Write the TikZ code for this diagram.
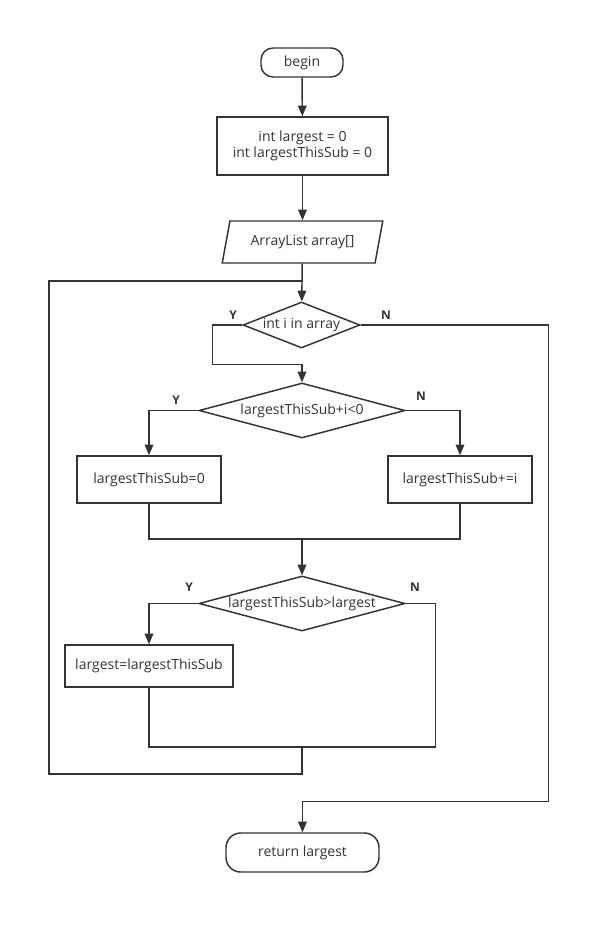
\documentclass[tikz,border=0pt]{standalone}
\usepackage{fontspec}
\setmainfont{Open Sans}
\usepackage{tikz}
\usetikzlibrary{shapes,shapes.geometric,arrows,arrows.meta,calc,positioning}

\definecolor{ink}{HTML}{333333}

\tikzset{
  box/.style={draw, rectangle, inner sep=2pt, align=center},
  term/.style={draw, rectangle, rounded corners=9pt, inner sep=2pt},
  io/.style={draw, trapezium, trapezium left angle=73, trapezium right angle=107,
    trapezium stretches=true, minimum width=120.75pt, minimum height=31.5pt, inner sep=2pt},
  decision/.style={draw, diamond, inner sep=0pt},
  arrow/.style={-{Triangle[length=8pt,width=6.5pt]}},
  yn/.style={font=\bfseries\fontsize{9}{11}\selectfont},
}

\begin{document}
\begin{tikzpicture}[x=0.75pt, y=-0.75pt, line width=1.1pt, color=ink,
    every node/.style={font=\fontsize{10.5}{12.5}\selectfont}]
  \useasboundingbox (0,0) rectangle (611,934);

  \node[term, minimum width=61.5pt, minimum height=21.75pt] (begin) at (302,62.5) {begin};
  \node[box, minimum width=128.25pt, minimum height=43.5pt] (init) at (302.5,146)
    {int largest = 0\\int largestThisSub = 0};
  \node[io] (input) at (302.5,242) {ArrayList array[]};
  \node[decision, minimum width=87.75pt, minimum height=34.5pt, aspect=2.54] (loop) at (301.5,325) {int i in array};
  \node[decision, minimum width=154.5pt, minimum height=41.25pt, aspect=3.75] (neg) at (302,410.5) {largestThisSub+i<0};
  \node[box, minimum width=108pt, minimum height=35.25pt] (reset) at (149,479.5) {largestThisSub=0};
  \node[box, minimum width=108pt, minimum height=35.25pt] (add) at (460,479.5) {largestThisSub+=i};
  \node[decision, minimum width=154.5pt, minimum height=41.25pt, aspect=3.75] (cmp) at (302,603.5) {largestThisSub>largest};
  \node[box, minimum width=126pt, minimum height=31.5pt] (keep) at (149,666) {largest=largestThisSub};
  \node[term, rounded corners=11pt, minimum width=114.75pt, minimum height=29.25pt] (ret) at (302.5,852.5) {return largest};

  % Y / N marks
  \node[yn] (loopY) at (233,315) {Y};
  \node[yn] (loopN) at (386,315) {N};
  \node[yn] (negY) at (176,400) {Y};
  \node[yn] (negN) at (421,396) {N};
  \node[yn] (cmpY) at (189,587) {Y};
  \node[yn] (cmpN) at (415,587) {N};

  \coordinate (top) at (302,281);
  \coordinate (m1) at (302,539);
  \coordinate (m2) at (302,747);

  \draw[arrow] (begin) -- (init);
  \draw[arrow] (init) -- (input);
  \draw[arrow] (input) -- (loop);
  \draw[arrow] (loop.west) -- ++(-30,0) |- ([yshift=13.5pt]neg.north) -- (neg.north);
  \draw[arrow] (loop.east) -- ++(188,0) |- ([yshift=23.25pt]ret.north) -- (ret.north);
  \draw[arrow] (neg.west) -| (reset.north);
  \draw[arrow] (neg.east) -| (add.north);
  \draw (reset.south) |- (m1) -| (add.south);
  \draw[arrow] (m1) -- (cmp.north);
  \draw[arrow] (cmp.west) -| (keep.north);
  \draw (keep.south) |- (m2);
  \draw (cmp.east) -- ++(30,0) |- (m2);
  % back to the loop test
  \draw (m2) -- ++(0,27) -- ++(-253,0) |- (top);
\end{tikzpicture}
\end{document}
